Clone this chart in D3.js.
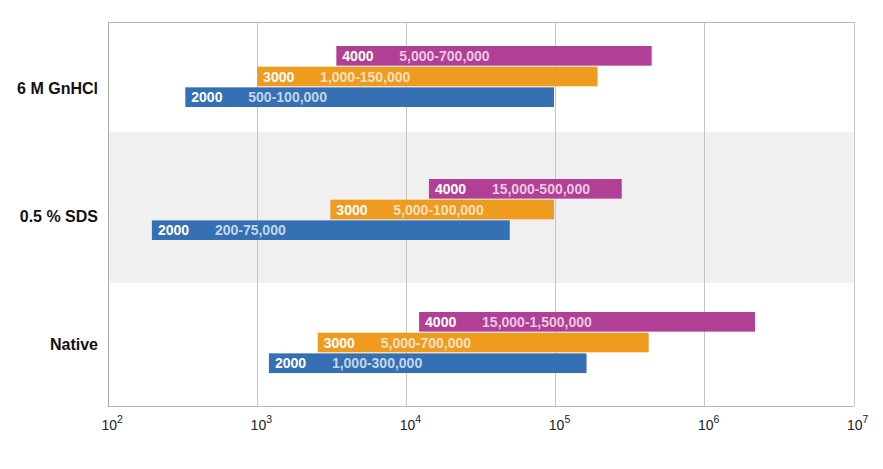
<!DOCTYPE html>
<html>
<head>
<meta charset="utf-8">
<script src="https://cdn.jsdelivr.net/npm/d3@7"></script>
<style>
  html, body { margin: 0; padding: 0; background: #ffffff; }
  svg { display: block; }
</style>
</head>
<body>
<svg id="chart" width="883" height="469"></svg>
<script>
// ---- data ----
const categories = ["6 M GnHCl", "0.5 % SDS", "Native"];
const series = ["4000", "3000", "2000"];
const seriesColors = ["#b13f95", "#ee9b20", "#3470b3"];
// bar starts and ends (log scale) per series, per category
const starts4000 = [3400, 14200, 12200];
const ends4000 = [443000, 279000, 2185000];
const starts3000 = [1000, 3100, 2550];
const ends3000 = [192000, 98000, 423000];
const starts2000 = [330, 197, 1200];
const ends2000 = [98000, 49500, 162000];
const ranges4000 = ["5,000-700,000", "15,000-500,000", "15,000-1,500,000"];
const ranges3000 = ["1,000-150,000", "5,000-100,000", "5,000-700,000"];
const ranges2000 = ["500-100,000", "200-75,000", "1,000-300,000"];
const tickExponents = [2, 3, 4, 5, 6, 7];

// ---- layout ----
const svg = d3.select("#chart");
const plotLeft = 108, plotRight = 853.5, plotTop = 22, plotBottom = 406;

const x = d3.scaleLog().domain([1e2, 1e7]).range([plotLeft, plotRight]);
const yCat = d3.scaleBand().domain(categories).range([plotTop, plotBottom]);
const yGroup = d3.scalePoint().domain(categories).range([46, 312]);
const yInner = d3.scaleBand().domain(series).range([0, 61]).paddingInner(0.05);

const startsBy = [starts4000, starts3000, starts2000];
const endsBy = [ends4000, ends3000, ends2000];
const rangesBy = [ranges4000, ranges3000, ranges2000];

const bars = [];
categories.forEach((c, ci) => {
  series.forEach((s, si) => {
    bars.push({cat: c, ser: s, color: seriesColors[si],
      start: startsBy[si][ci], end: endsBy[si][ci], range: rangesBy[si][ci]});
  });
});

// shaded band behind the middle category
svg.append("rect")
  .attr("x", plotLeft + 1).attr("y", 132)
  .attr("width", plotRight - plotLeft - 1).attr("height", 151)
  .attr("fill", "#f0f0f0");

// vertical grid lines
svg.append("g").selectAll("line")
  .data(tickExponents)
  .join("line")
  .attr("x1", d => Math.round(x(Math.pow(10, d))) + 0.5)
  .attr("x2", d => Math.round(x(Math.pow(10, d))) + 0.5)
  .attr("y1", plotTop).attr("y2", plotBottom)
  .attr("stroke", "#c4c4c4").attr("stroke-width", 1);

// frame
svg.append("line").attr("x1", plotLeft).attr("x2", plotRight + 0.5)
  .attr("y1", plotTop + 0.5).attr("y2", plotTop + 0.5).attr("stroke", "#b8b8b8");
svg.append("line").attr("x1", plotLeft).attr("x2", plotRight + 0.5)
  .attr("y1", plotBottom + 0.5).attr("y2", plotBottom + 0.5).attr("stroke", "#b8b8b8");
svg.append("line").attr("x1", plotLeft + 0.5).attr("x2", plotLeft + 0.5)
  .attr("y1", plotTop).attr("y2", plotBottom + 1).attr("stroke", "#a8a8a8");

// bars
const barG = svg.append("g");
barG.selectAll("rect")
  .data(bars)
  .join("rect")
  .attr("x", d => x(d.start))
  .attr("width", d => x(d.end) - x(d.start))
  .attr("y", d => yGroup(d.cat) + yInner(d.ser))
  .attr("height", yInner.bandwidth())
  .attr("fill", d => d.color);

const fontFam = "'Liberation Sans', Arial, Helvetica, sans-serif";

// series labels inside bars
barG.selectAll("text.ser")
  .data(bars)
  .join("text")
  .attr("class", "ser")
  .attr("x", d => x(d.start) + 6)
  .attr("y", d => yGroup(d.cat) + yInner(d.ser) + yInner.bandwidth() / 2)
  .attr("dy", "0.36em")
  .attr("font-family", fontFam)
  .attr("font-weight", "bold")
  .attr("font-size", 14)
  .attr("fill", "#ffffff")
  .text(d => d.ser);

// range labels inside bars
barG.selectAll("text.rng")
  .data(bars)
  .join("text")
  .attr("class", "rng")
  .attr("x", d => x(d.start) + 63)
  .attr("y", d => yGroup(d.cat) + yInner(d.ser) + yInner.bandwidth() / 2)
  .attr("dy", "0.36em")
  .attr("font-family", fontFam)
  .attr("font-weight", "bold")
  .attr("font-size", 14)
  .attr("fill", "#ffffff")
  .attr("fill-opacity", 0.72)
  .text(d => d.range);

// category labels
svg.append("g").selectAll("text")
  .data(categories)
  .join("text")
  .attr("x", 98)
  .attr("y", d => yCat(d) + yCat.bandwidth() / 2 + 2)
  .attr("dy", "0.36em")
  .attr("text-anchor", "end")
  .attr("font-family", fontFam)
  .attr("font-weight", "bold")
  .attr("font-size", 16)
  .attr("fill", "#111111")
  .text(d => d);

// x tick labels 10^n
const tl = svg.append("g").selectAll("text")
  .data(tickExponents)
  .join("text")
  .attr("x", d => x(Math.pow(10, d)) - 6.5)
  .attr("y", 430)
  .attr("font-family", fontFam)
  .attr("font-size", 14)
  .attr("fill", "#222222");
tl.append("tspan").text("10");
tl.append("tspan").attr("dy", -7.5).attr("font-size", 10.5).text(d => d);
</script>
</body>
</html>
